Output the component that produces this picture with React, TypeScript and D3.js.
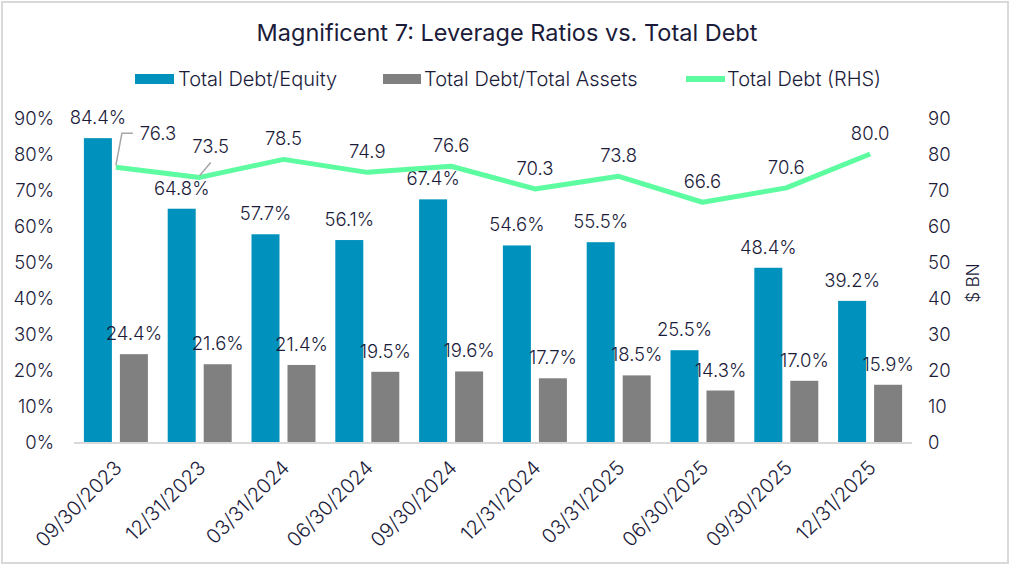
import React from "react";
import * as d3 from "d3";

const categories = ["09/30/2023","12/31/2023","03/31/2024","06/30/2024","09/30/2024","12/31/2024","03/31/2025","06/30/2025","09/30/2025","12/31/2025"];
const debtEquity = [84.4, 64.8, 57.7, 56.1, 67.4, 54.6, 55.5, 25.5, 48.4, 39.2];
const debtAssets = [24.4, 21.6, 21.4, 19.5, 19.6, 17.7, 18.5, 14.3, 17.0, 15.9];
const totalDebt = [76.3, 73.5, 78.5, 74.9, 76.6, 70.3, 73.8, 66.6, 70.6, 80.0];
const leftTicks = [0, 10, 20, 30, 40, 50, 60, 70, 80, 90];
const rightTicks = [0, 10, 20, 30, 40, 50, 60, 70, 80, 90];
const seriesNames = ["Total Debt/Equity", "Total Debt/Total Assets", "Total Debt (RHS)"];

const W = 1011, H = 565;
const BLUE = "#0092BC";
const GRAY = "#808080";
const GREEN = "#5DFCA1";
const TEXT = "#1B1B3A";
const FONT = "Inter, 'Noto Sans', sans-serif";

export default function App() {
  const left = 74, right = 912, top = 118, bottom = 442;
  const x = d3.scaleBand<string>().domain(categories).range([left, right]).padding(0);
  const x1 = d3.scaleBand<string>().domain(["de", "da"]).range([0, 64]).paddingInner(8 / 36).paddingOuter(0);
  const yL = d3.scaleLinear().domain([0, 90]).range([bottom, top]);
  const yR = d3.scaleLinear().domain([0, 90]).range([bottom, top]);
  const cx = (c: string) => (x(c) as number) + x.bandwidth() / 2;
  const line = d3.line<number>().x((_, i) => cx(categories[i])).y((d) => yR(d));
  const fs = 18.5;

  return (
    <svg width={W} height={H} style={{ position: "absolute", left: 0, top: 0 }} fontFamily={FONT} fontWeight={300}>
      <rect x={0} y={0} width={W} height={H} fill="#fff" />
      <rect x={2} y={2} width={1006} height={561} fill="none" stroke="#D9D9D9" strokeWidth={2} />
      <text x={507} y={41} textAnchor="middle" fontSize={23.5} fontWeight={400} fill={TEXT}>
        Magnificent 7: Leverage Ratios vs. Total Debt
      </text>
      {/* legend */}
      <g fontSize={20} fill={TEXT}>
        <rect x={135} y={74} width={39} height={10} fill={BLUE} />
        <text x={178} y={86}>{seriesNames[0]}</text>
        <rect x={383} y={74} width={38} height={10} fill={GRAY} />
        <text x={424} y={86}>{seriesNames[1]}</text>
        <line x1={686} x2={725} y1={79} y2={79} stroke={GREEN} strokeWidth={6} />
        <text x={727} y={86}>{seriesNames[2]}</text>
      </g>
      {/* axis labels */}
      <g fontSize={fs} fill={TEXT}>
        {leftTicks.map((t) => (
          <text key={t} x={54} y={yL(t)} dy="0.36em" textAnchor="end">{t}%</text>
        ))}
        {rightTicks.map((t) => (
          <text key={"r" + t} x={928} y={yR(t)} dy="0.36em" textAnchor="start">{t}</text>
        ))}
        <text transform={`translate(979,283) rotate(-90)`} textAnchor="middle" fontSize={17}>$ BN</text>
      </g>
      {/* bars */}
      {categories.map((c, i) => {
        const x0 = (x(c) as number) + x.bandwidth() / 2 - 32;
        const bx = x0 + (x1("de") as number);
        const gx = x0 + (x1("da") as number);
        return (
          <g key={c}>
            <rect x={bx} y={yL(debtEquity[i])} width={x1.bandwidth()} height={bottom - yL(debtEquity[i])} fill={BLUE} />
            <rect x={gx} y={yL(debtAssets[i])} width={x1.bandwidth()} height={bottom - yL(debtAssets[i])} fill={GRAY} />
          </g>
        );
      })}
      <line x1={left} x2={right} y1={bottom + 1} y2={bottom + 1} stroke="#D9D9D9" strokeWidth={2} />
      {/* bar labels */}
      <g fontSize={fs} fill={TEXT} textAnchor="middle">
        {categories.map((c, i) => {
          const x0 = (x(c) as number) + x.bandwidth() / 2 - 32;
          const bx = x0 + (x1("de") as number) + x1.bandwidth() / 2;
          const gx = x0 + (x1("da") as number) + x1.bandwidth() / 2;
          return (
            <g key={c}>
              <text x={bx} y={yL(debtEquity[i]) - 14}>{debtEquity[i].toFixed(1)}%</text>
              <text x={gx} y={yL(debtAssets[i]) - 14}>{debtAssets[i].toFixed(1)}%</text>
            </g>
          );
        })}
      </g>
      {/* line */}
      <path d={line(totalDebt) as string} fill="none" stroke={GREEN} strokeWidth={5} strokeLinejoin="round" />
      {/* line labels */}
      <g fontSize={fs} fill={TEXT} textAnchor="middle">
        {totalDebt.map((v, i) => {
          const px = cx(categories[i]);
          const py = yR(v);
          if (i === 0) {
            return (
              <g key={i}>
                <polyline points={`${px},${py - 2} ${px + 6},${py - 34} ${px + 17},${py - 34}`} fill="none" stroke="#A6A6A6" strokeWidth={1.5} />
                <text x={px + 42} y={py - 27}>{v.toFixed(1)}</text>
              </g>
            );
          }
          if (i === 1) {
            return (
              <g key={i}>
                <line x1={px} y1={py - 2} x2={px + 11} y2={py - 15} stroke="#A6A6A6" strokeWidth={1.5} />
                <text x={px + 11} y={py - 24}>{v.toFixed(1)}</text>
              </g>
            );
          }
          return <text key={i} x={px} y={py - 14}>{v.toFixed(1)}</text>;
        })}
      </g>
      {/* x labels */}
      <g fontSize={20} fill={TEXT}>
        {categories.map((c) => (
          <text key={c} transform={`translate(${cx(c) + 2},${bottom + 22}) rotate(-45)`} textAnchor="end" dy="0.36em">{c}</text>
        ))}
      </g>
    </svg>
  );
}
